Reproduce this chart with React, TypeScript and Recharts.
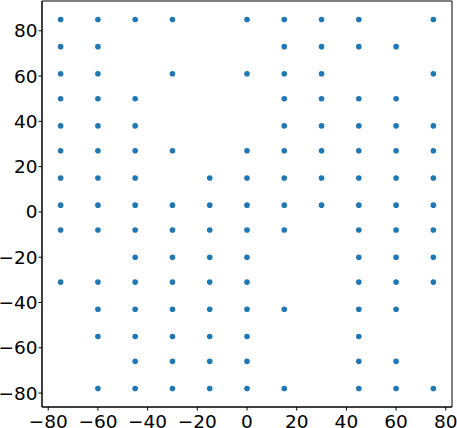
import React from 'react';
import { ScatterChart, Scatter, XAxis, YAxis, ReferenceArea } from 'recharts';

const xCats = [-75, -60, -45, -30, -15, 0, 15, 30, 45, 60, 75];
const row85 = [-75, -60, -45, -30, 0, 15, 30, 45, 75];
const row73 = [-75, -60, 15, 30, 45, 60];
const row61 = [-75, -60, -30, 0, 15, 30, 75];
const row50 = [-75, -60, -45, 15, 30, 45, 60];
const row38 = [-75, -60, -45, 15, 30, 45, 60, 75];
const row27 = [-75, -60, -45, -30, 0, 15, 30, 45, 60, 75];
const row15 = [-75, -60, -45, -15, 0, 15, 30, 45, 60, 75];
const row3 = [-75, -60, -45, -30, -15, 0, 15, 30, 45, 60, 75];
const rowM8 = [-75, -60, -45, -30, -15, 0, 15, 45, 60, 75];
const rowM20 = [-45, -30, -15, 0, 45, 60, 75];
const rowM31 = [-75, -60, -45, -30, -15, 0, 45, 60, 75];
const rowM43 = [-60, -45, -30, -15, 0, 15, 45, 60];
const rowM55 = [-60, -45, -30, -15, 0, 45];
const rowM66 = [-45, -30, -15, 0, 45, 60];
const rowM78 = [-60, -45, -30, -15, 0, 15, 45, 60, 75];

const rowYs = [85, 73, 61, 50, 38, 27, 15, 3, -8, -20, -31, -43, -55, -66, -78];
const rowXs = [row85, row73, row61, row50, row38, row27, row15, row3, rowM8, rowM20, rowM31, rowM43, rowM55, rowM66, rowM78];

const xTicks = [-80, -60, -40, -20, 0, 20, 40, 60, 80];
const yTicks = [-80, -60, -40, -20, 0, 20, 40, 60, 80];

const points: { x: number; y: number }[] = [];
rowYs.forEach((y, i) => {
  rowXs[i].forEach((x) => {
    if (xCats.includes(x)) points.push({ x, y });
  });
});

const fmt = (v: number) => String(v).replace('-', '\u2212');
const tickStyle = { fill: '#000', fontSize: 18.5, fontFamily: 'DejaVu Sans' };

const Dot = (props: any) => (
  <circle cx={props.cx} cy={props.cy} r={2.8} fill="#1f77b4" />
);

export default function App() {
  return (
    <div style={{ position: 'absolute', left: 0, top: 0, background: '#fff' }}>
      <ScatterChart width={457} height={428} margin={{ top: 1, right: 5, left: 0, bottom: 0 }}>
        <XAxis
          type="number"
          dataKey="x"
          domain={[-82.5, 82.5]}
          ticks={xTicks}
          tickFormatter={fmt}
          height={21}
          tickSize={3.5}
          tickMargin={4.5}
          tick={tickStyle}
          stroke="#000"
          allowDataOverflow
        />
        <YAxis
          type="number"
          dataKey="y"
          domain={[-86.15, 93.15]}
          ticks={yTicks}
          tickFormatter={fmt}
          width={42}
          tickSize={3.5}
          tickMargin={1}
          tick={tickStyle}
          stroke="#000"
          allowDataOverflow
        />
        <ReferenceArea
          x1={-82.5}
          x2={82.5}
          y1={-86.15}
          y2={93.15}
          fill="none"
          fillOpacity={0}
          stroke="#000"
          strokeWidth={1}
          ifOverflow="visible"
        />
        <Scatter data={points} shape={Dot} isAnimationActive={false} />
      </ScatterChart>
    </div>
  );
}
